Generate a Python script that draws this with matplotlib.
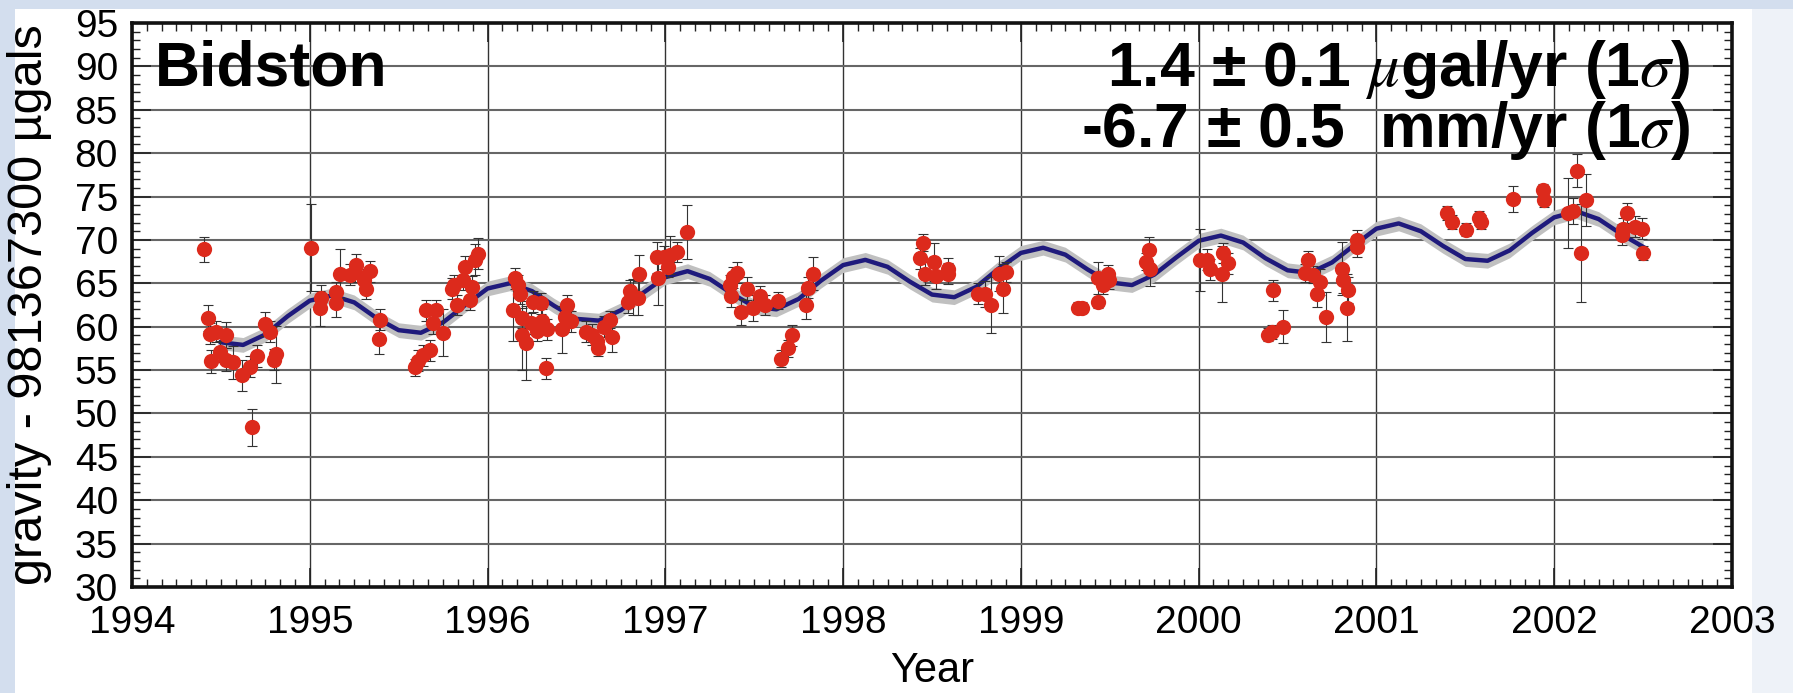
import matplotlib
matplotlib.use("Agg")
import matplotlib.pyplot as plt
from matplotlib.patches import Rectangle
from matplotlib.ticker import MultipleLocator

plt.rcParams['font.family'] = ['Liberation Sans', 'DejaVu Sans']
plt.rcParams['mathtext.fontset'] = 'stix'

# -------------------------
# Data
# -------------------------

# gravity residuals (value - 981367300 microgal), with 1-sigma error bars
years = [
    1994.403, 1994.428, 1994.437, 1994.475, 1994.531, 1994.447, 1994.494, 1994.531,
    1994.569, 1994.621, 1994.662, 1994.704, 1994.677, 1994.747, 1994.775, 1994.809,
    1994.797, 1995.009, 1995.065, 1995.060, 1995.146, 1995.146, 1995.169, 1995.225,
    1995.262, 1995.253, 1995.304, 1995.341, 1995.315, 1995.394, 1995.388, 1995.590,
    1995.609, 1995.637, 1995.675, 1995.656, 1995.712, 1995.694, 1995.750, 1995.802,
    1995.810, 1995.826, 1995.872, 1995.863, 1995.910, 1995.904, 1995.929, 1995.947,
    1996.154, 1996.172, 1996.182, 1996.144, 1996.191, 1996.191, 1996.219, 1996.242,
    1996.257, 1996.298, 1996.279, 1996.309, 1996.336, 1996.328, 1996.416, 1996.448,
    1996.435, 1996.467, 1996.553, 1996.585, 1996.613, 1996.622, 1996.654, 1996.688,
    1996.701, 1996.791, 1996.800, 1996.816, 1996.853, 1996.847, 1996.951, 1996.960,
    1996.992, 1997.016, 1997.029, 1997.063, 1997.123, 1997.363, 1997.381, 1997.404,
    1997.372, 1997.457, 1997.428, 1997.494, 1997.532, 1997.560, 1997.635, 1997.653,
    1997.691, 1997.710, 1997.790, 1997.803, 1997.828, 1998.450, 1998.432, 1998.460,
    1998.510, 1998.522, 1998.591, 1998.591, 1998.759, 1998.797, 1998.834, 1998.878,
    1998.915, 1998.900, 1999.322, 1999.341, 1999.434, 1999.434, 1999.463, 1999.491,
    1999.496, 1999.721, 1999.706, 1999.725, 2000.006, 2000.045, 2000.063, 2000.138,
    2000.166, 2000.129, 2000.420, 2000.391, 2000.410, 2000.476, 2000.616, 2000.598,
    2000.645, 2000.682, 2000.663, 2000.716, 2000.804, 2000.813, 2000.841, 2000.832,
    2000.888, 2000.892, 2001.395, 2001.423, 2001.503, 2001.578, 2001.586, 2001.769,
    2001.938, 2001.944, 2002.079, 2002.107, 2002.126, 2002.178, 2002.150, 2002.407,
    2002.388, 2002.379, 2002.454, 2002.491, 2002.497,
]
gravity = [
    68.9, 60.95, 59.2, 59.4, 59.0, 56.0, 57.1, 56.2,
    55.9, 54.4, 55.4, 56.6, 48.4, 60.3, 59.4, 56.8,
    56.2, 69.1, 63.3, 62.1, 64.0, 62.7, 66.1, 66.0,
    67.1, 66.3, 65.4, 66.4, 64.4, 60.8, 58.6, 55.3,
    56.1, 56.7, 57.3, 61.9, 61.9, 60.4, 59.3, 64.4,
    64.8, 62.5, 66.9, 65.4, 64.6, 63.1, 67.7, 68.4,
    65.6, 64.8, 63.8, 61.9, 61.0, 59.0, 58.1, 60.4,
    62.9, 62.7, 59.5, 60.6, 59.7, 55.2, 59.7, 62.5,
    61.1, 60.6, 59.4, 59.1, 58.4, 57.6, 60.0, 60.8,
    58.8, 62.9, 64.1, 63.4, 66.1, 63.3, 68.0, 65.6,
    68.0, 66.9, 68.3, 68.6, 70.9, 64.8, 65.7, 66.2,
    63.5, 64.4, 61.7, 62.1, 63.5, 62.5, 63.0, 56.3,
    57.5, 59.0, 62.5, 64.5, 66.1, 69.7, 67.9, 66.1,
    67.5, 65.8, 66.7, 66.1, 63.8, 63.8, 62.5, 66.1,
    66.3, 64.4, 62.2, 62.2, 62.8, 65.6, 64.8, 66.1,
    65.4, 68.8, 67.5, 66.7, 67.7, 67.7, 66.6, 68.5,
    67.3, 66.1, 64.2, 59.1, 59.4, 60.0, 67.7, 66.2,
    66.0, 65.2, 63.8, 61.1, 66.7, 65.4, 64.2, 62.2,
    70.0, 69.2, 73.1, 72.1, 71.2, 72.5, 72.1, 74.7,
    75.7, 74.6, 73.1, 73.3, 78.0, 74.6, 68.5, 73.1,
    71.3, 70.6, 71.5, 71.3, 68.5,
]
errors = [
    1.4, 1.5, 1.2, 1.2, 1.5, 1.3, 1.2, 1.3,
    1.9, 1.8, 1.2, 1.3, 2.1, 1.4, 1.2, 3.3,
    1.2, 5.0, 1.5, 2.0, 1.2, 1.6, 2.8, 1.2,
    1.3, 1.2, 1.2, 1.2, 1.2, 1.2, 1.8, 1.0,
    1.2, 1.2, 1.2, 1.2, 1.2, 1.2, 2.7, 1.2,
    1.2, 1.2, 1.3, 1.2, 1.2, 1.2, 1.8, 1.8,
    1.2, 1.2, 1.2, 3.6, 1.2, 4.0, 4.3, 1.2,
    1.2, 1.2, 1.2, 1.4, 1.2, 1.2, 2.7, 1.2,
    1.2, 1.2, 1.2, 1.2, 1.2, 1.0, 1.2, 1.0,
    1.7, 1.3, 1.3, 2.1, 2.2, 2.0, 1.8, 3.1,
    1.3, 1.2, 2.2, 1.2, 3.1, 1.2, 1.2, 1.2,
    1.2, 1.3, 1.5, 1.5, 1.2, 1.2, 1.0, 1.0,
    1.0, 1.2, 1.6, 1.2, 1.9, 1.0, 1.2, 1.3,
    2.2, 1.5, 1.2, 1.2, 1.2, 1.5, 3.2, 2.0,
    1.2, 2.8, 0.6, 0.6, 0.6, 1.8, 1.0, 1.0,
    1.0, 1.5, 1.0, 2.0, 3.6, 1.2, 1.2, 1.2,
    1.2, 3.2, 1.2, 0.8, 0.8, 1.9, 1.0, 1.0,
    1.0, 1.5, 1.5, 2.9, 3.1, 1.5, 1.5, 3.9,
    1.2, 1.2, 0.8, 0.8, 0.8, 0.8, 0.8, 1.5,
    0.8, 0.8, 4.0, 1.5, 1.9, 3.0, 5.6, 1.2,
    1.2, 1.2, 1.2, 1.2, 0.8,
]

# fitted curve (trend + annual term), sampled every 1/8 year from 1994.5
fit_years = [1994.5 + k * 0.125 for k in range(65)]
fit_values = [
    58.2, 57.9, 59.1, 61.2, 63.0, 63.6, 62.8, 61.0,
    59.6, 59.3, 60.5, 62.5, 64.4, 65.0, 64.1, 62.4,
    60.9, 60.7, 61.9, 63.9, 65.7, 66.4, 65.5, 63.8,
    62.3, 62.0, 63.2, 65.3, 67.1, 67.7, 66.9, 65.2,
    63.7, 63.4, 64.6, 66.7, 68.5, 69.1, 68.3, 66.6,
    65.1, 64.8, 66.0, 68.0, 69.9, 70.5, 69.7, 67.9,
    66.5, 66.2, 67.4, 69.4, 71.3, 71.9, 71.0, 69.3,
    67.8, 67.6, 68.8, 70.8, 72.6, 73.3, 72.4, 70.7,
    69.2,
]
fit_sigma = 0.85

x_ticks = list(range(1994, 2004))
y_ticks = list(range(30, 100, 5))

# -------------------------
# Figure
# -------------------------
fig = plt.figure(figsize=(17.93, 6.93), dpi=100)
fig.patch.set_facecolor('white')
fig.patches.append(Rectangle((0, 0), 1, 1, transform=fig.transFigure,
                             facecolor='#d3deee', edgecolor='none', zorder=-3))
fig.patches.append(Rectangle((15 / 1793, 0), (1752 - 15) / 1793, 1 - 9 / 693,
                             transform=fig.transFigure, facecolor='white',
                             edgecolor='none', zorder=-2))
fig.patches.append(Rectangle((1752 / 1793, 0), 41 / 1793, 1 - 9 / 693,
                             transform=fig.transFigure, facecolor='#eef2f8',
                             edgecolor='none', zorder=-2))

ax = fig.add_axes([132 / 1793, 1 - 587 / 693, 1600 / 1793, 564 / 693])

# fit band and curve
lo = [v - fit_sigma for v in fit_values]
hi = [v + fit_sigma for v in fit_values]
ax.fill_between(fit_years, lo, hi, color='#c0c0c0', lw=0, zorder=2)
ax.plot(fit_years, fit_values, color='#1f1a7c', lw=3.2, zorder=3,
        solid_joinstyle='round')

# observations
ax.errorbar(years, gravity, yerr=errors, fmt='none', ecolor='#333333',
            elinewidth=0.8, capsize=3.5, capthick=0.8, zorder=4)
ax.plot(years, gravity, 'o', color='#dc2a1c', ms=11, mec='none', zorder=5)

ax.set_xlim(1994, 2003)
ax.set_ylim(30, 95)
ax.set_xticks(x_ticks)
ax.set_yticks(y_ticks)
ax.xaxis.set_minor_locator(MultipleLocator(1 / 12))
ax.yaxis.set_minor_locator(MultipleLocator(1))
ax.tick_params(which='both', direction='in', top=True, right=True,
               labelsize=28, color='#222222')
ax.tick_params(which='major', length=14, width=1.2)
ax.tick_params(which='minor', length=6, width=1.0)
ax.tick_params(axis='x', which='major', pad=13)
ax.tick_params(axis='y', which='major', pad=10)
for s in ax.spines.values():
    s.set_linewidth(2.6)
    s.set_color('#111111')

ax.grid(True, axis='y', which='major', color='#666666', lw=1.5)
ax.grid(True, axis='x', which='major', color='#333333', lw=1.0)
ax.set_axisbelow(True)

ax.set_xlabel('Year', fontsize=30, labelpad=7)
fig.text(30 / 1793, 0.56, 'gravity - 981367300 \u00b5gals', rotation=90,
         ha='center', va='center', fontsize=35)

ax.text(0.014, 0.889, 'Bidston', transform=ax.transAxes, fontsize=45,
        fontweight='bold', ha='left', va='baseline', zorder=6)
ax.text(0.974, 0.889, '1.4 \u00b1 0.1 $\\mu$gal/yr (1$\\sigma$)', transform=ax.transAxes,
        fontsize=45, fontweight='bold', ha='right', va='baseline', zorder=6)
ax.text(0.974, 0.78, '-6.7 \u00b1 0.5  mm/yr (1$\\sigma$)', transform=ax.transAxes,
        fontsize=45, fontweight='bold', ha='right', va='baseline', zorder=6)

fig.savefig('out.png', dpi=100)
